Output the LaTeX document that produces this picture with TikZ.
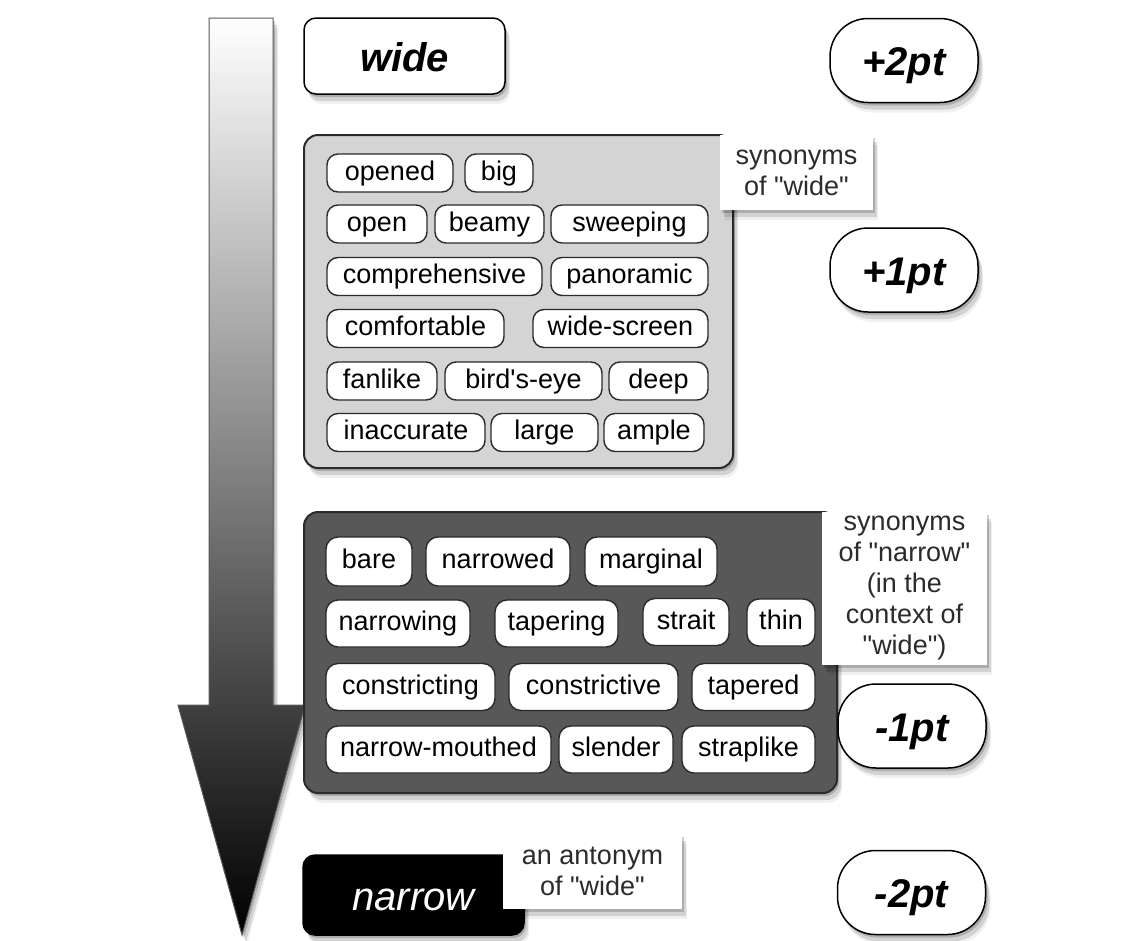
\documentclass[tikz,border=0pt]{standalone}
\usepackage{fontspec}
\setmainfont{Liberation Sans}[Ligatures=TeXOff]
\usetikzlibrary{shadows}
\definecolor{panellight}{HTML}{D4D4D4}
\definecolor{paneldark}{HTML}{585858}
\definecolor{edge}{HTML}{2A2A2A}
\definecolor{notetext}{HTML}{2B2B2B}
\begin{document}
\begin{tikzpicture}[x=1pt,y=-1pt,
  shadowed/.style={
    drop shadow={shadow xshift=2pt,shadow yshift=-3pt,opacity=0.18,fill=black},
    drop shadow={shadow xshift=4pt,shadow yshift=-7pt,opacity=0.12,fill=black},
    drop shadow={shadow xshift=5pt,shadow yshift=-10pt,opacity=0.06,fill=black}},
  chipfont/.style={font=\fontsize{27}{31}\selectfont},
  chip/.style={draw=edge, line width=1.4pt, fill=white, rounded corners=11pt, inner sep=0pt, minimum height=38pt, chipfont, text height=20pt, text depth=6pt},
  dchip/.style={chip, minimum height=47pt, rounded corners=12pt},
  panel/.style={draw=edge, line width=2pt, rounded corners=14pt, inner sep=0pt, shadowed},
  note/.style={fill=white, align=center, inner sep=0pt, text=notetext, chipfont, shadowed},
  bigbox/.style={draw=black, line width=1.5pt, fill=white, inner sep=0pt, shadowed, font=\fontsize{40}{44}\selectfont\bfseries\itshape, text height=36pt, text depth=6pt},
  pill/.style={bigbox, rounded corners=38pt, minimum width=148pt, minimum height=84pt},
]
\useasboundingbox (0,0) rectangle (1145,940);
\fill[white] (0,0) rectangle (1145,940);

% gradient arrow
\coordinate (a1) at (209,18);
\coordinate (a2) at (273,18);
\coordinate (a3) at (273,705);
\coordinate (a4) at (305,705);
\coordinate (tip) at (242,935);
\coordinate (a6) at (178,705);
\coordinate (a7) at (209,705);
\shade[top color=white, bottom color=black, draw=black!65, line width=1pt, shadowed]
  (a1) -- (a2) -- (a3) -- (a4) -- (tip) -- (a6) -- (a7) -- cycle;

% top and bottom words
\node[bigbox, rounded corners=12pt, minimum width=201pt, minimum height=76pt] (wide) at (404.5,56) {wide};
\node[bigbox, fill=black, draw=black, text=white, rounded corners=12pt, minimum width=221pt, minimum height=80pt,
      font=\fontsize{40}{44}\selectfont\itshape] (narrow) at (413.5,895) {narrow};

% panels
\node[panel, fill=panellight, minimum width=429pt, minimum height=333pt] (lightpanel) at (518.5,301.5) {};
\node[panel, fill=paneldark, minimum width=533pt, minimum height=281pt] (darkpanel) at (570.5,652.5) {};

% synonyms of wide
\node[chip, minimum width=126pt] (opened) at (390,173) {opened};
\node[chip, minimum width=68pt] (big) at (499,173) {big};
\node[chip, minimum width=100pt] (open) at (377,224) {open};
\node[chip, minimum width=109pt] (beamy) at (489.5,224) {beamy};
\node[chip, minimum width=157pt] (sweeping) at (629.5,224) {sweeping};
\node[chip, minimum width=215pt] (comprehensive) at (434.5,276.5) {comprehensive};
\node[chip, minimum width=157pt] (panoramic) at (629.5,276.5) {panoramic};
\node[chip, minimum width=177pt] (comfortable) at (415.5,328.5) {comfortable};
\node[chip, minimum width=175pt] (widescreen) at (620.5,328.5) {wide-screen};
\node[chip, minimum width=110pt] (fanlike) at (382,381) {fanlike};
\node[chip, minimum width=157pt] (birdseye) at (523.5,381) {bird's-eye};
\node[chip, minimum width=99pt] (deep) at (658.5,381) {deep};
\node[chip, minimum width=158pt] (inaccurate) at (406,432.5) {inaccurate};
\node[chip, minimum width=107pt] (large) at (544.5,432.5) {large};
\node[chip, minimum width=100pt] (ample) at (654,432.5) {ample};

% synonyms of narrow
\node[dchip, minimum width=86pt, minimum height=49pt] (bare) at (369,561.5) {bare};
\node[dchip, minimum width=144pt, minimum height=49pt] (narrowed) at (498,561.5) {narrowed};
\node[dchip, minimum width=132pt, minimum height=49pt] (marginal) at (651,561.5) {marginal};
\node[dchip, minimum width=144pt] (narrowing) at (398,623.5) {narrowing};
\node[dchip, minimum width=123pt] (tapering) at (556.5,623.5) {tapering};
\node[dchip, minimum width=86pt] (strait) at (686,622) {strait};
\node[dchip, minimum width=68pt] (thin) at (781,622.5) {thin};
\node[dchip, minimum width=169pt] (constricting) at (410.5,687) {constricting};
\node[dchip, minimum width=169pt] (constrictive) at (593.5,687) {constrictive};
\node[dchip, minimum width=123pt] (tapered) at (753.5,687) {tapered};
\node[dchip, minimum width=225pt] (narrowmouthed) at (438.5,749.5) {narrow-mouthed};
\node[dchip, minimum width=114pt] (slender) at (616,749.5) {slender};
\node[dchip, minimum width=133pt] (straplike) at (748.5,749.5) {straplike};

% notes
\node[note, minimum width=153pt, minimum height=75pt] (notewide) at (796.5,172.5) {synonyms\\of "wide"};
\node[note, minimum width=165pt, minimum height=153pt] (notenarrow) at (904.5,588.5) {synonyms\\of "narrow"\\(in the\\context of\\"wide")};
\node[note, minimum width=179pt, minimum height=75pt] (noteanto) at (592.5,871.5) {an antonym\\of "wide"};

% scores
\node[pill] (p2) at (904,60.5) {+2pt};
\node[pill] (p1) at (904,270) {+1pt};
\node[pill] (m1) at (912,726) {-1pt};
\node[pill] (m2) at (911.5,892.5) {-2pt};
\end{tikzpicture}
\end{document}
